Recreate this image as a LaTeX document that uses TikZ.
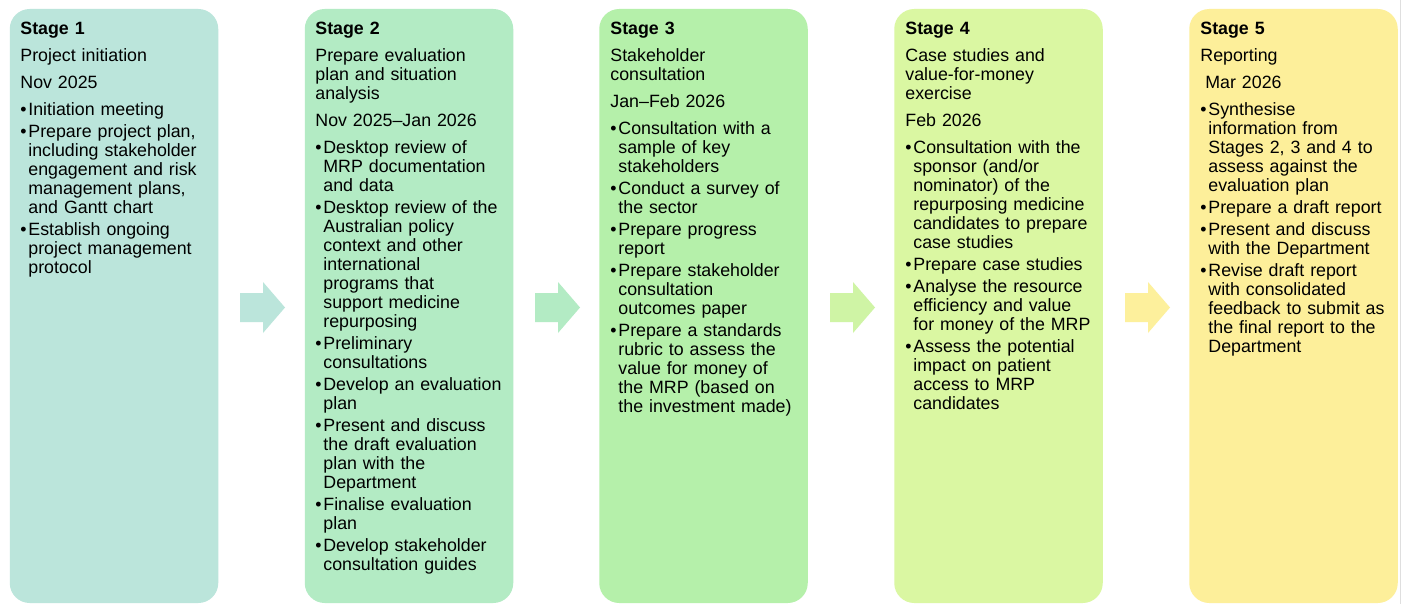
\documentclass[tikz,border=0pt]{standalone}
\usepackage{fontspec}
\setmainfont{Liberation Sans}
\definecolor{cA}{HTML}{BBE5DB}
\definecolor{cB}{HTML}{B3EBC4}
\definecolor{cC}{HTML}{B5F0AA}
\definecolor{cD}{HTML}{DAF7A2}
\definecolor{cE}{HTML}{FDEF9A}
\definecolor{arC}{HTML}{CFF4A5}
\definecolor{arD}{HTML}{FDF09C}
\newcommand\bul{\makebox[4pt][l]{\textbullet}}
\newcommand\ind{\hspace*{4pt}}
\newcommand\hsk{\\[4pt]}
\newcommand\isk{\\[1.5pt]}
\tikzset{
  stagebox/.style={rounded corners=10pt, inner sep=0pt, minimum width=104.25pt, minimum height=297pt},
  stagetext/.style={anchor=base west, text width=110pt, align=left, inner sep=0pt, font=\fontsize{8.9}{9.5}\selectfont},
}
\newcommand\blockarrow[3]{\fill[#2] (#1,293) coordinate (#3) -- ++(23,0) -- ++(0,-11) -- ++(22,25.5) -- ++(-22,25.5) -- ++(0,-11) -- ++(-23,0) -- cycle;}
\begin{document}
\begin{tikzpicture}[x=0.5pt,y=-0.5pt]
\useasboundingbox (0,0) rectangle (1407,604);
\fill[white] (0,0) rectangle (1407,604);
\node[stagebox, fill=cA] (s1) at (114,306) {};
\node[stagebox, fill=cB] (s2) at (409,306) {};
\node[stagebox, fill=cC] (s3) at (703.5,306) {};
\node[stagebox, fill=cD] (s4) at (998.5,306) {};
\node[stagebox, fill=cE] (s5) at (1293.5,306) {};
\draw[gray!25, line width=0.5pt] (1400.5,0) -- (1400.5,604);
\blockarrow{240}{cA}{a1}
\blockarrow{535}{cB}{a2}
\blockarrow{830}{arC}{a3}
\blockarrow{1125}{arD}{a4}
\node[stagetext] (t1) at (20,34.5) {\textbf{Stage 1}\hsk
Project initiation\hsk
Nov 2025\hsk
\bul Initiation meeting\isk
\bul Prepare project plan,\\
\ind including stakeholder\\
\ind engagement and risk\\
\ind management plans,\\
\ind and Gantt chart\isk
\bul Establish ongoing\\
\ind project management\\
\ind protocol};
\node[stagetext] (t2) at (315,34.5) {\textbf{Stage 2}\hsk
Prepare evaluation\\
plan and situation\\
analysis\hsk
Nov 2025–Jan 2026\hsk
\bul Desktop review of\\
\ind MRP documentation\\
\ind and data\isk
\bul Desktop review of the\\
\ind Australian policy\\
\ind context and other\\
\ind international\\
\ind programs that\\
\ind support medicine\\
\ind repurposing\isk
\bul Preliminary\\
\ind consultations\isk
\bul Develop an evaluation\\
\ind plan\isk
\bul Present and discuss\\
\ind the draft evaluation\\
\ind plan with the\\
\ind Department\isk
\bul Finalise evaluation\\
\ind plan\isk
\bul Develop stakeholder\\
\ind consultation guides};
\node[stagetext] (t3) at (610,34.5) {\textbf{Stage 3}\hsk
Stakeholder\\
consultation\hsk
Jan–Feb 2026\hsk
\bul Consultation with a\\
\ind sample of key\\
\ind stakeholders\isk
\bul Conduct a survey of\\
\ind the sector\isk
\bul Prepare progress\\
\ind report\isk
\bul Prepare stakeholder\\
\ind consultation\\
\ind outcomes paper\isk
\bul Prepare a standards\\
\ind rubric to assess the\\
\ind value for money of\\
\ind the MRP (based on\\
\ind the investment made)};
\node[stagetext] (t4) at (905,34.5) {\textbf{Stage 4}\hsk
Case studies and\\
value-for-money\\
exercise\hsk
Feb 2026\hsk
\bul Consultation with the\\
\ind sponsor (and/or\\
\ind nominator) of the\\
\ind repurposing medicine\\
\ind candidates to prepare\\
\ind case studies\isk
\bul Prepare case studies\isk
\bul Analyse the resource\\
\ind efficiency and value\\
\ind for money of the MRP\isk
\bul Assess the potential\\
\ind impact on patient\\
\ind access to MRP\\
\ind candidates};
\node[stagetext] (t5) at (1200,34.5) {\textbf{Stage 5}\hsk
Reporting\hsk
\hspace*{2.5pt}Mar 2026\hsk
\bul Synthesise\\
\ind information from\\
\ind Stages 2, 3 and 4 to\\
\ind assess against the\\
\ind evaluation plan\isk
\bul Prepare a draft report\isk
\bul Present and discuss\\
\ind with the Department\isk
\bul Revise draft report\\
\ind with consolidated\\
\ind feedback to submit as\\
\ind the final report to the\\
\ind Department};
\end{tikzpicture}
\end{document}
